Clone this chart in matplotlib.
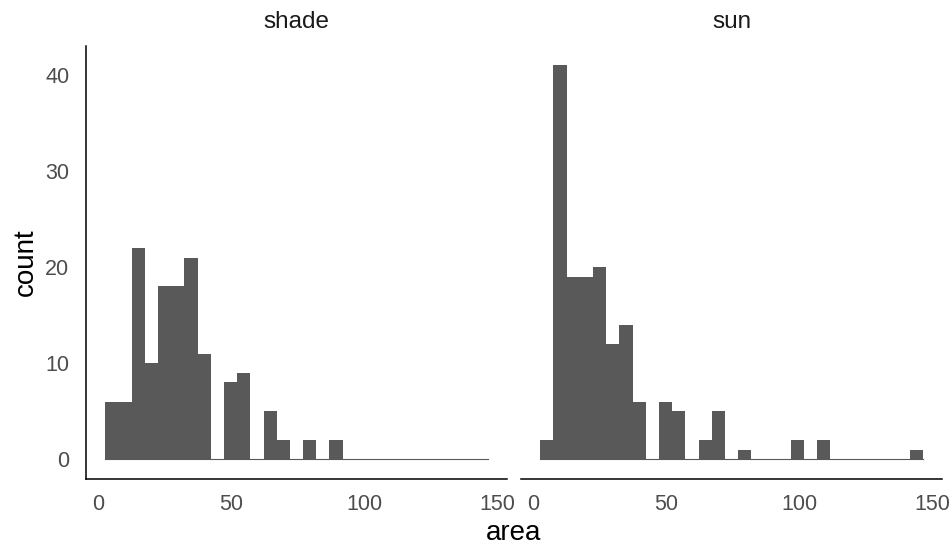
import numpy as np
import matplotlib
matplotlib.use("Agg")
import matplotlib.pyplot as plt

plt.rcParams['font.family'] = ['Liberation Sans', 'DejaVu Sans']

# histogram bins (area units), 29 bins shared by both facets
bin_start = 2.63
bin_width = 4.96
panels = ["shade", "sun"]
shade_counts = [6, 6, 22, 10, 18, 18, 21, 11, 0, 8, 9, 0, 5, 2, 0, 2, 0, 2,
                0, 0, 0, 0, 0, 0, 0, 0, 0, 0, 0]
sun_counts = [2, 41, 19, 19, 20, 12, 14, 6, 0, 6, 5, 0, 2, 5, 0, 1, 0, 0, 0, 2,
              0, 2, 0, 0, 0, 0, 0, 0, 1]
x_ticks = [0, 50, 100, 150]
y_ticks = [0, 10, 20, 30, 40]

edges = bin_start + bin_width * np.arange(len(shade_counts) + 1)
xr = edges[-1] - edges[0]
xlim = (edges[0] - 0.05 * xr, edges[-1] + 0.05 * xr)
ymax = max(max(shade_counts), max(sun_counts))
ylim = (-0.05 * ymax, ymax * 1.05)

W, H = 949, 546
fig = plt.figure(figsize=(W / 100, H / 100), dpi=100)

bar_col = "#595959"
tick_col = "#4D4D4D"
lefts = [86, 521]
pw = 421
top, bottom = 45.7, 479

for i, (name, counts) in enumerate(zip(panels, [shade_counts, sun_counts])):
    ax = fig.add_axes([lefts[i] / W, (H - bottom) / H, pw / W, (bottom - top) / H])
    ax.bar(edges[:-1], counts, width=bin_width, align='edge', color=bar_col,
           linewidth=0)
    ax.plot([edges[0], edges[-1]], [0, 0], color=bar_col, lw=0.8)
    ax.set_xlim(xlim)
    ax.set_ylim(ylim)
    for s in ["top", "right"]:
        ax.spines[s].set_visible(False)
    ax.spines["bottom"].set_linewidth(1.1)
    ax.spines["left"].set_linewidth(1.1)
    ax.set_xticks(x_ticks)
    ax.set_xticklabels([str(t) for t in x_ticks])
    ax.tick_params(axis='x', length=0, pad=11, labelsize=15.5, labelcolor=tick_col)
    if i == 0:
        ax.set_yticks(y_ticks)
        ax.tick_params(axis='y', length=0, pad=12, labelsize=15.5, labelcolor=tick_col)
    else:
        ax.spines["left"].set_visible(False)
        ax.set_yticks([])
    ax.set_facecolor("white")
    fig.text((lefts[i] + pw / 2) / W, 1 - 22 / H, name, ha='center', va='center',
             fontsize=17.5, color="#1A1A1A")

fig.text(513.5 / W, 6.5 / H, "area", ha='center', va='baseline', fontsize=20)
fig.text(26 / W, 1 - 262 / H, "count", ha='center', va='center',
         rotation=90, fontsize=20)

fig.savefig("out.png", dpi=100)
